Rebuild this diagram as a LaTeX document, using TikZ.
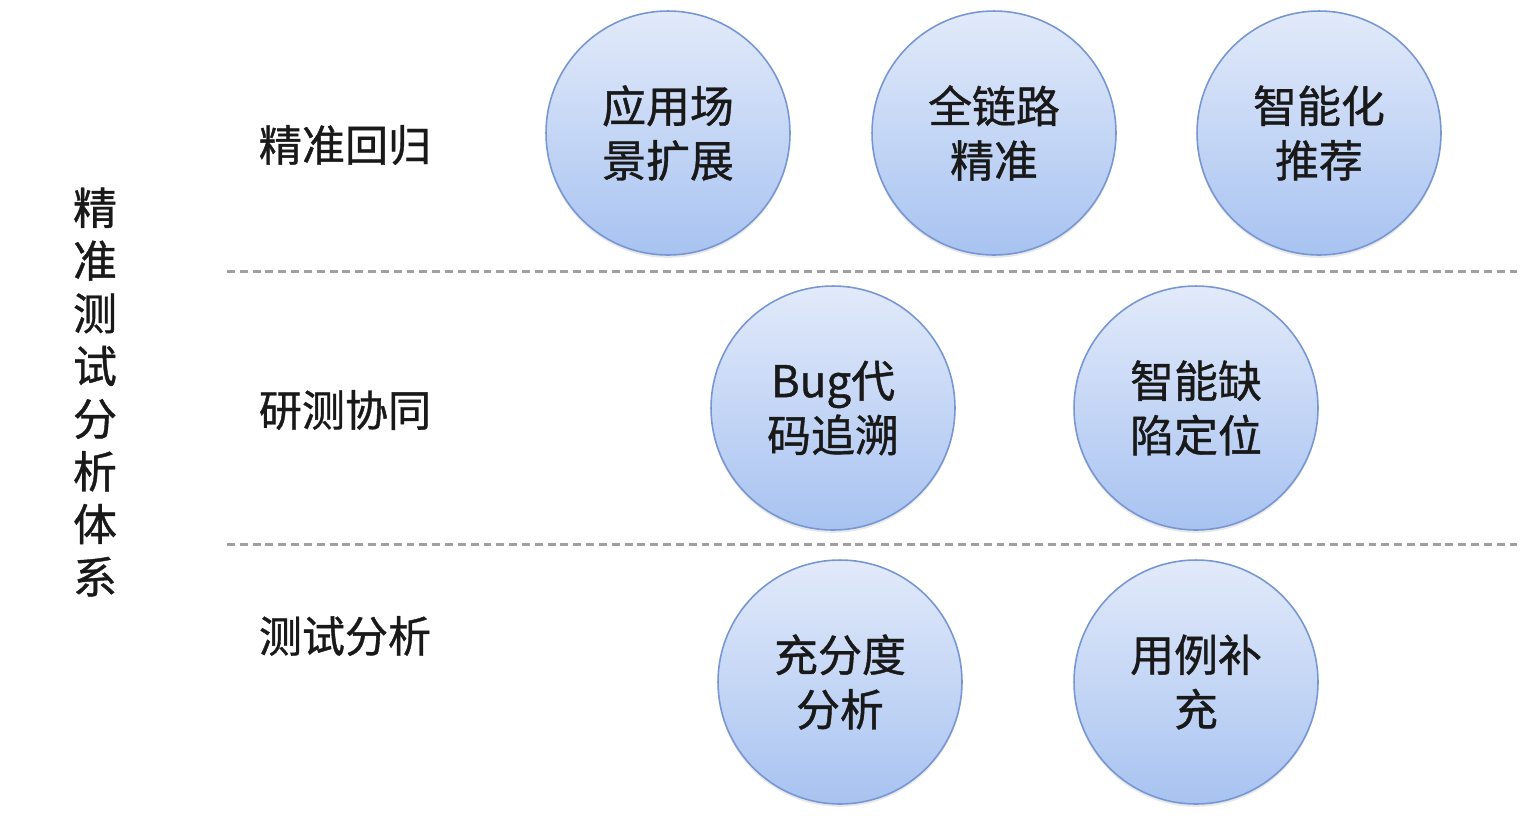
\documentclass[tikz,border=0pt]{standalone}
\usepackage{fontspec}
\setmainfont{Noto Sans CJK SC}[FakeBold=0.9]
\usepackage{tikz}
\usetikzlibrary{shadows}

\definecolor{balltop}{RGB}{226,234,250}
\definecolor{ballbot}{RGB}{168,195,241}
\definecolor{ballline}{RGB}{118,150,212}
\definecolor{sepgray}{RGB}{160,160,160}

\begin{document}
\begin{tikzpicture}[x=0.02cm, y=-0.02cm,
  ball/.style={circle, draw=ballline, line width=0.9pt, top color=balltop,
    bottom color=ballbot, minimum size=4.88cm, inner sep=0pt, align=center,
    font=\fontsize{25}{31}\selectfont, text=black!90,
    drop shadow={opacity=0.18, shadow xshift=0pt, shadow yshift=-1.6pt}},
  rowlabel/.style={font=\fontsize{24.5}{30}\selectfont, text=black!90},
  sep/.style={draw=sepgray, line width=1.7pt, dash pattern=on 4.5pt off 2.8pt}
]
\useasboundingbox (0,0) rectangle (1522,826);

% title on the left
\node[rowlabel, align=center, font=\fontsize{25}{30}\selectfont] (title) at (95,392)
  {精\\准\\测\\试\\分\\析\\体\\系};

% row labels
\node[rowlabel] (regress) at (345,145) {精准回归};
\node[rowlabel] (collab) at (345,410) {研测协同};
\node[rowlabel] (analyse) at (345,636) {测试分析};

% separators
\coordinate (s1a) at (227,271);
\coordinate (s1b) at (1524,271);
\coordinate (s2a) at (227,544);
\coordinate (s2b) at (1524,544);
\draw[sep] (s1a) -- (s1b);
\draw[sep] (s2a) -- (s2b);

% row 1
\node[ball] (scene) at (668,133) {应用场\\景扩展};
\node[ball] (chain) at (994,133) {全链路\\精准};
\node[ball] (recommend) at (1319,133) {智能化\\推荐};

% row 2
\node[ball] (bugtrace) at (833,408) {Bug代\\码追溯};
\node[ball] (locate) at (1196,408) {智能缺\\陷定位};

% row 3
\node[ball] (coverage) at (840,682) {充分度\\分析};
\node[ball] (cases) at (1196,682) {用例补\\充};
\end{tikzpicture}
\end{document}
